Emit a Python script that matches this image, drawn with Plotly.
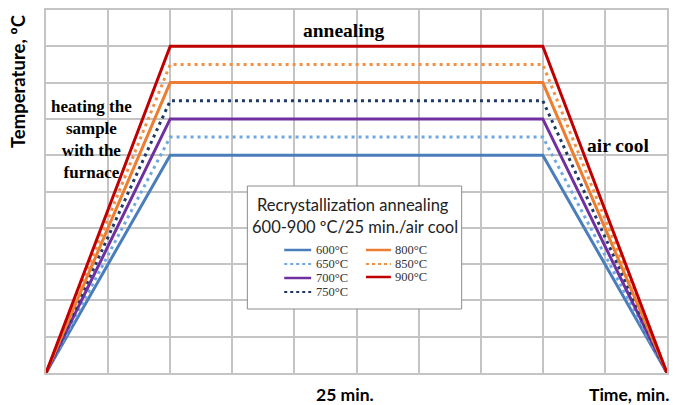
import plotly.graph_objects as go

# ---- data ----
temps = [600, 650, 700, 750, 800, 850, 900]
labels = ["600°C", "650°C", "700°C", "750°C", "800°C", "850°C", "900°C"]
colors = ["#4a7ebb", "#6fa8e0", "#7030a0", "#1f3864", "#ed7d31", "#f29046", "#c00000"]
dashes = ["solid", "3px,4px", "solid", "3px,4px", "solid", "3px,4px", "solid"]
time_pts = [0, 2, 8, 10]          # heating end, annealing end, cooling end (grid units)

W, H = 677, 405
L, R, T, B = 46, 8, 10, 32
pw, ph = W - L - R, H - T - B

def px(x):
    return (x - L) / pw

def py(y):
    return (H - B - y) / ph

fig = go.Figure()
for t, lab, c, d in zip(temps, labels, colors, dashes):
    fig.add_trace(go.Scatter(
        x=time_pts, y=[0, t, t, 0], mode="lines", name=lab,
        line=dict(color=c, width=3, dash=d), showlegend=False,
        hoverinfo="skip"))

shapes = []
annotations = []

def note(text, x, y, font, xanchor="center", **kw):
    annotations.append(dict(text=text, xref="paper", yref="paper", x=px(x), y=py(y),
                            xanchor=xanchor, yanchor="middle", showarrow=False,
                            font=font, **kw))

# legend box
shapes.append(dict(type="rect", xref="paper", yref="paper",
                   x0=px(248), x1=px(463), y0=py(309), y1=py(186),
                   line=dict(color="#8c8c8c", width=1), fillcolor="white", layer="above"))
title_font = dict(family="Lato", size=16.5, color="#222")
note("Recrystallization annealing", 354, 205, title_font)
note("600-900 ºC/25 min./air cool", 356, 227, title_font)

# legend entries: two columns
col_x = [(285, 312, 315), (367, 392, 394)]
rows_y = [250, 264, 278, 292]
for i, (lab, c, d) in enumerate(zip(labels, colors, dashes)):
    col = 0 if i < 4 else 1
    row = i if i < 4 else i - 4
    x0, x1, xt = col_x[col]
    yy = rows_y[row] - (1 if col == 1 and row == 2 else 0)
    shapes.append(dict(type="line", xref="paper", yref="paper",
                       x0=px(x0), x1=px(x1), y0=py(yy), y1=py(yy),
                       line=dict(color=c, width=2.5 if d == "solid" else 2,
                                 dash="solid" if d == "solid" else "dot"),
                       layer="above"))
    note(lab, xt, yy, dict(family="Liberation Serif", size=12.5, color="#333"), xanchor="left")

serif_b = dict(family="Liberation Serif", size=19.5, color="black", weight="bold")
note("annealing", 345, 30, serif_b)
note("air cool", 620, 145, serif_b)
note("heating the<br>sample<br>with the<br>furnace", 92, 140,
     dict(family="Liberation Serif", size=17, color="black", weight="bold"))

sans_b = dict(family="Lato", size=17.5, color="black", weight="bold")
note("25 min.", 346, 394, sans_b)
note("Time, min.", 631, 394, sans_b)
note("Temperature, ºC", 18, 81, dict(family="Lato", size=18.5, color="black", weight="bold"),
     textangle=-90)

grid = "#c4c4c4"
fig.update_layout(
    width=W, height=H,
    margin=dict(l=L, r=R, t=T, b=B, pad=0),
    paper_bgcolor="white", plot_bgcolor="white",
    showlegend=False,
    shapes=shapes, annotations=annotations,
    xaxis=dict(range=[0, 10], dtick=1, showgrid=True, gridcolor=grid, gridwidth=1.5,
               showticklabels=False, zeroline=False, showline=True, linecolor=grid,
               linewidth=1.5, mirror=True, ticks=""),
    yaxis=dict(range=[0, 1000], dtick=100, showgrid=True, gridcolor=grid, gridwidth=1.5,
               showticklabels=False, zeroline=False, showline=True, linecolor=grid,
               linewidth=1.5, mirror=True, ticks=""),
)

fig.write_html("out.html", config={"displayModeBar": False},
               post_script="document.body.style.margin='0';document.body.style.overflow='hidden';")
